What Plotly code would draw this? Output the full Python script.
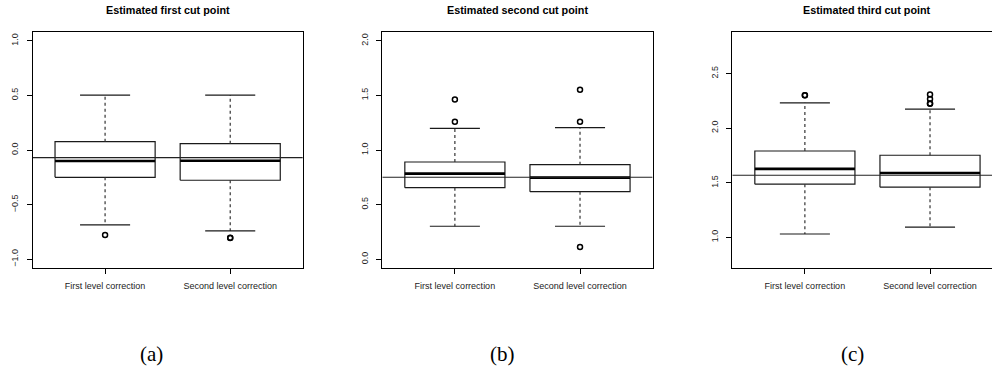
import plotly.graph_objects as go

W, H = 992, 373

# ---------------- data ----------------
titles = ["Estimated first cut point", "Estimated second cut point", "Estimated third cut point"]
captions = ["(a)", "(b)", "(c)"]
groups = ["First level correction", "Second level correction"]

# panel (a)
a_q1 = [-0.25, -0.277]
a_med = [-0.10, -0.098]
a_q3 = [0.076, 0.058]
a_low = [-0.686, -0.741]
a_up = [0.503, 0.503]
a_out = [[-0.777], [-0.805, -0.802]]
a_ref = -0.07
a_ticks = [-1.0, -0.5, 0.0, 0.5, 1.0]
a_ylim = [-1.0, 1.0]

# panel (b)
b_q1 = [0.655, 0.619]
b_med = [0.784, 0.747]
b_q3 = [0.890, 0.866]
b_low = [0.302, 0.302]
b_up = [1.198, 1.204]
b_out = [[1.259, 1.463], [1.259, 1.552, 0.113]]
b_ref = 0.75
b_ticks = [0.0, 0.5, 1.0, 1.5, 2.0]
b_ylim = [0.0, 2.0]

# panel (c)
c_q1 = [1.487, 1.460]
c_med = [1.627, 1.590]
c_q3 = [1.791, 1.752]
c_low = [1.031, 1.094]
c_up = [2.232, 2.174]
c_out = [[2.302, 2.300], [2.308, 2.266, 2.223, 2.226]]
c_ref = 1.569
c_ticks = [1.0, 1.5, 2.0, 2.5]
c_ylim = [0.8, 2.8]

panels = [
    (a_q1, a_med, a_q3, a_low, a_up, a_out, a_ref, a_ticks, a_ylim),
    (b_q1, b_med, b_q3, b_low, b_up, b_out, b_ref, b_ticks, b_ylim),
    (c_q1, c_med, c_q3, c_low, c_up, c_out, c_ref, c_ticks, c_ylim),
]

# ---------------- layout geometry (pixels) ----------------
frame_left = [32.5, 382.3, 732.3]
frame_w = 270.3
frame_top, frame_bot = 32.0, 268.0
xlim = [0.42, 2.58]
half_box = 0.4
half_cap = 0.2

fig = go.Figure()
layout = dict(
    width=W, height=H, margin=dict(l=0, r=0, t=0, b=0),
    paper_bgcolor="white", plot_bgcolor="white", showlegend=False,
    font=dict(family="Liberation Sans, Arial, sans-serif", color="black", size=9),
    annotations=[],
)

for i, (q1, med, q3, low, up, outs, ref, ticks, ylim) in enumerate(panels):
    ax = "" if i == 0 else str(i + 1)
    xa, ya = "x" + ax, "y" + ax
    left = frame_left[i]
    right = min(left + frame_w, W)
    vis_frac = (right - left) / frame_w
    xr = [xlim[0], xlim[0] + (xlim[1] - xlim[0]) * vis_frac]
    ext = (ylim[1] - ylim[0]) * 0.04
    yr = [ylim[0] - ext, ylim[1] + ext]

    for g in range(2):
        c = g + 1
        # box
        fig.add_trace(go.Scatter(
            x=[c - half_box, c + half_box, c + half_box, c - half_box, c - half_box],
            y=[q1[g], q1[g], q3[g], q3[g], q1[g]],
            mode="lines", line=dict(color="#1a1a1a", width=1.2),
            xaxis=xa, yaxis=ya, hoverinfo="skip"))
        # whiskers (dashed)
        fig.add_trace(go.Scatter(x=[c, c], y=[q3[g], up[g]], mode="lines",
                                 line=dict(color="#333333", width=1.2, dash="dot"),
                                 xaxis=xa, yaxis=ya, hoverinfo="skip"))
        fig.add_trace(go.Scatter(x=[c, c], y=[q1[g], low[g]], mode="lines",
                                 line=dict(color="#333333", width=1.2, dash="dot"),
                                 xaxis=xa, yaxis=ya, hoverinfo="skip"))
        # caps
        for v in (up[g], low[g]):
            fig.add_trace(go.Scatter(x=[c - half_cap, c + half_cap], y=[v, v], mode="lines",
                                     line=dict(color="#1a1a1a", width=1.2),
                                     xaxis=xa, yaxis=ya, hoverinfo="skip"))
        # median
        fig.add_trace(go.Scatter(x=[c - half_box, c + half_box], y=[med[g], med[g]], mode="lines",
                                 line=dict(color="black", width=2.6),
                                 xaxis=xa, yaxis=ya, hoverinfo="skip"))
        # outliers
        fig.add_trace(go.Scatter(x=[c] * len(outs[g]), y=outs[g], mode="markers",
                                 marker=dict(symbol="circle-open", size=5, color="black",
                                             line=dict(width=1.5, color="black")),
                                 xaxis=xa, yaxis=ya, hoverinfo="skip"))
    # reference line
    fig.add_trace(go.Scatter(x=[xlim[0], xlim[1]], y=[ref, ref], mode="lines",
                             line=dict(color="#222222", width=1.1),
                             xaxis=xa, yaxis=ya, hoverinfo="skip"))

    dom_x = [left / W, right / W]
    dom_y = [1 - frame_bot / H, 1 - frame_top / H]
    layout["xaxis" + ax] = dict(
        domain=dom_x, range=xr, anchor=ya, tickvals=[1, 2], ticktext=groups,
        showgrid=False, zeroline=False, showline=True, mirror=True, linecolor="black",
        linewidth=1, ticks="outside", ticklen=5, tickcolor="black", tickwidth=1,
        tickfont=dict(size=9, color="#222222"), ticklabelstandoff=4, fixedrange=True)
    layout["yaxis" + ax] = dict(
        domain=dom_y, range=yr, anchor=xa, tickvals=ticks,
        ticktext=[("%.1f" % t).replace("-", "\u2212") for t in ticks],
        tickangle=-90, showgrid=False, zeroline=False, showline=True,
        mirror=(right - left >= frame_w - 0.5), linecolor="black", linewidth=1,
        ticks="outside", ticklen=5, tickcolor="black", tickwidth=1,
        tickfont=dict(size=9, color="#222222"), ticklabelstandoff=5, fixedrange=True)

    cx_full = (left + left + frame_w) / 2
    layout["annotations"].append(dict(
        text="<b>" + titles[i] + "</b>", x=cx_full / W, y=1 - 9.5 / H,
        xref="paper", yref="paper", xanchor="center", yanchor="middle",
        showarrow=False, font=dict(size=10.8, color="black")))
    layout["annotations"].append(dict(
        text=captions[i], x=[151, 502, 852][i] / W, y=1 - 354 / H,
        xref="paper", yref="paper", xanchor="center", yanchor="middle",
        showarrow=False, font=dict(family="Liberation Serif, serif", size=21, color="black")))

fig.update_layout(**layout)
fig.write_html("out.html")
